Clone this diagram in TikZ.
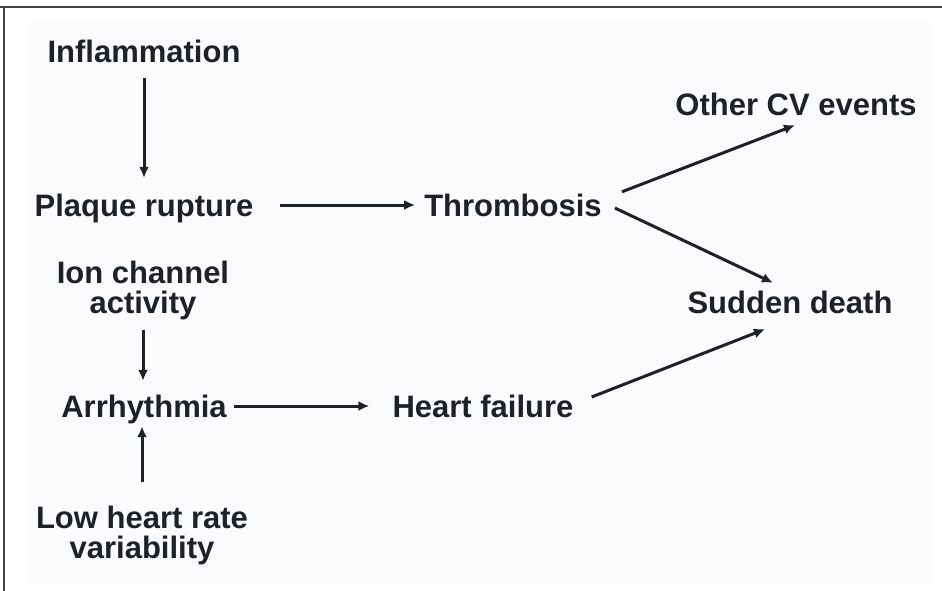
\documentclass[tikz,border=0pt]{standalone}
\usepackage{fontspec}
\setmainfont{Liberation Sans}
\usetikzlibrary{arrows.meta}
\definecolor{fond}{HTML}{FAFBFD}
\definecolor{encre}{HTML}{1C2228}
\begin{document}
\begin{tikzpicture}[x=1pt,y=-1pt]
\tikzstyle{cadre}=[line width=1.5pt,black!75]
\tikzstyle{facteur}=[inner sep=0pt,anchor=base,text=encre,font=\bfseries\fontsize{31}{30}\selectfont,text height=22pt,text depth=0pt]
\tikzstyle{facteurdouble}=[inner sep=0pt,anchor=base,align=center,text=encre,font=\bfseries\fontsize{31}{30}\selectfont]
\tikzstyle{fleche}=[->,>={Latex[length=11pt,width=10pt]},line width=3pt,encre]
\useasboundingbox (0,0) rectangle (942,591);
\fill[fond] (29,22) rectangle (931,585);
\draw[cadre] (0,7) -- (942,7);
\draw[cadre] (4,7) -- (4,591);
\node[facteur] (inflam) at (144,63) {Inflammation};
\node[facteur] (plaque) at (144,216) {Plaque rupture};
\node[facteur] (thromb) at (513,216) {Thrombosis};
\node[facteur] (autres) at (796,116) {Other CV events};
\node[facteur] (mort) at (790,313) {Sudden death};
\node[facteurdouble] (canal) at (143,313) {Ion channel\\activity};
\node[facteur] (arythmie) at (144,417) {Arrhythmia};
\node[facteur] (insuf) at (483,417) {Heart failure};
\node[facteurdouble] (variab) at (142,558) {Low heart rate\\variability};
%flèches
\draw[fleche,shorten <=15pt,shorten >=16pt] (inflam.south) -- (plaque.north);
\draw[fleche,shorten <=26pt,shorten >=9pt] (plaque.east) -- (thromb.west);
\draw[fleche] ([xshift=20pt,yshift=2pt]thromb.north east) -- ([xshift=-1pt,yshift=-9pt]autres.south);
\draw[fleche] ([xshift=13pt,yshift=-3pt]thromb.east) -- ([xshift=-17pt,yshift=8pt]mort.north);
\draw[fleche,shorten <=10pt,shorten >=14pt] (canal.south) -- (canal.south |- arythmie.north);
\draw[fleche,shorten <=23pt,shorten >=9pt] (variab.north) -- (variab.north |- arythmie.south);
\draw[fleche,shorten <=7pt,shorten >=23pt] (arythmie.east) -- (insuf.west);
\draw[fleche] ([xshift=18pt,yshift=9pt]insuf.east) -- ([xshift=-25pt,yshift=-16pt]mort.south);
\end{tikzpicture}
\end{document}
